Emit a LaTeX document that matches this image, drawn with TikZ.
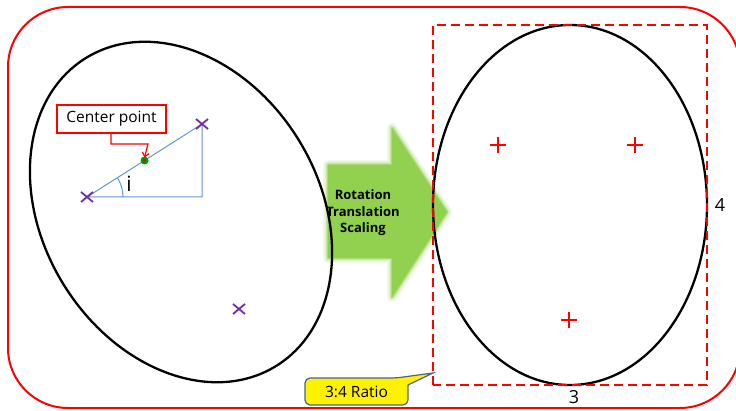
\documentclass[tikz,border=0pt]{standalone}
\usepackage{fontspec}
\setmainfont{Open Sans}
\usetikzlibrary{arrows.meta}
\definecolor{arrowgreen}{RGB}{146,208,80}
\definecolor{steel}{RGB}{100,150,210}
\definecolor{xpurple}{RGB}{112,48,160}
\definecolor{calloutedge}{RGB}{70,100,140}
\tikzset{
  outline/.style={draw=red, line width=2pt, rounded corners=60pt},
  ellipseline/.style={draw=black, line width=2.3pt},
  dashbox/.style={draw=red, line width=2pt, dash pattern=on 9pt off 5pt},
  plusmark/.style={draw=red, line width=2pt},
  xmark/.style={draw=xpurple, line width=1.8pt},
  triline/.style={draw=steel, line width=1pt},
  labelbox/.style={draw=red, line width=1.5pt, fill=white, minimum width=109pt, minimum height=28pt, inner sep=0pt, font=\fontsize{15.5}{17}\selectfont},
  bigtext/.style={font=\fontsize{18}{20}\selectfont},
}
\begin{document}
\begin{tikzpicture}[x=1pt,y=1pt]
\useasboundingbox (0,0) rectangle (736,410);
\fill[white] (0,0) rectangle (736,410);
% outer frame
\draw[outline] (8,2) rectangle (740,403);

% green arrow with soft edge
\foreach \w/\o in {10/0.12, 7/0.18, 4/0.3, 2/0.5}{
  \draw[arrowgreen, line width=\w pt, line join=round, opacity=\o]
    (328,245) -- (392,245) -- (392,282) -- (447,198) -- (392,113) -- (392,152) -- (328,152) -- cycle;
}
\fill[arrowgreen] (328,245) -- (392,245) -- (392,282) -- (447,198) -- (392,113) -- (392,152) -- (328,152) -- cycle;
\node[align=center, font=\bfseries\fontsize{13}{16.5}\selectfont] (op) at (363,197) {Rotation\\Translation\\Scaling};

% left ellipse
\draw[ellipseline, rotate around={31.7:(181,198)}] (181,198) ellipse [x radius=138pt, y radius=181pt];

% triangle
\coordinate (A) at (87,213);
\coordinate (B) at (202,286);
\coordinate (C) at (202,213);
\draw[triline] (A) -- (B) -- (C) -- cycle;
\draw[triline] ([shift={(36,0)}]A) arc[start angle=0, end angle=32.4, radius=36pt];
\node[font=\fontsize{21}{22}\selectfont] (ang) at (129,226) {i};

% crosses
\foreach \px/\py in {87/213, 202/286, 239/101}{
  \draw[xmark] (\px-6,\py-5) -- (\px+6,\py+5) (\px-6,\py+5) -- (\px+6,\py-5);
}
% center dot
\coordinate (M) at (144.5,249.5);
\fill[green!60!black] (M) circle (4pt);
\fill[red] (M) circle (1.6pt);

% center point label
\node[labelbox] (cp) at (111.5,291) {Center point};
\coordinate (cpb) at (111,277);
\coordinate (bend) at (148,266);
\draw[red, line width=1.2pt, -{Straight Barb[length=4pt,width=7pt]}] (cpb) |- (bend) -- ([yshift=3pt]M);

% right ellipse, box
\draw[ellipseline] (570,205) ellipse [x radius=137pt, y radius=180pt];
\draw[dashbox] (433,25) rectangle (707,385);

% plus marks
\foreach \px/\py in {498/265, 635/265, 569/90}{
  \draw[plusmark] (\px-8,\py) -- (\px+8,\py) (\px,\py-8) -- (\px,\py+8);
}
\node[bigtext] (four) at (720,205) {4};
\node[bigtext] (three) at (574,13) {3};

% callout
\draw[calloutedge, fill=yellow, line width=1.2pt, rounded corners=5pt]
  (305,5) -- (305,32) -- (396,32) [sharp corners] -- (433,37) -- (408,25) [rounded corners=5pt] -- (408,5) -- cycle;
\node[font=\fontsize{15.5}{17}\selectfont] (ratio) at (356.5,18.5) {3:4 Ratio};
\end{tikzpicture}
\end{document}
